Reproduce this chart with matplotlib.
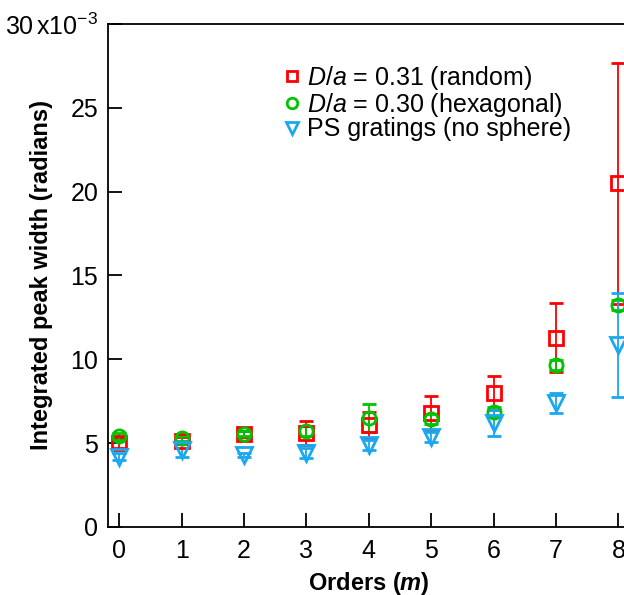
import matplotlib
matplotlib.use('Agg')
import matplotlib.pyplot as plt
import numpy as np

plt.rcParams['font.family'] = ['Liberation Sans', 'DejaVu Sans']
plt.rcParams['mathtext.fontset'] = 'custom'
plt.rcParams['mathtext.rm'] = 'Liberation Sans'
plt.rcParams['mathtext.it'] = 'Liberation Sans:italic'
plt.rcParams['mathtext.bf'] = 'Liberation Sans:bold'
plt.rcParams['mathtext.bfit'] = 'Liberation Sans:italic:bold'

# data (units of 1e-3 rad)
orders = [0, 1, 2, 3, 4, 5, 6, 7, 8]
random_w = [4.99, 5.15, 5.55, 5.6, 6.08, 6.8, 7.98, 11.3, 20.5]
random_err = [0.3, 0.2, 0.2, 0.7, 0.8, 1.0, 1.0, 2.05, 7.2]
hex_w = [5.4, 5.3, 5.55, 5.75, 6.5, 6.42, 6.88, 9.68, 13.24]
hex_err = [0.2, 0.15, 0.15, 0.3, 0.82, 0.3, 0.3, 0.3, 0.3]
ps_w = [4.2, 4.6, 4.3, 4.42, 4.9, 5.38, 6.2, 7.4, 10.85]
ps_err = [0.2, 0.45, 0.1, 0.3, 0.3, 0.3, 0.8, 0.6, 3.1]
ytick_vals = [0, 5, 10, 15, 20, 25, 30]
ytick_labels = ['0', '5', '10', '15', '20', '25', '30$\\,$x10$^{\\mathregular{-3}}$']

fig = plt.figure(figsize=(6.24, 5.95), dpi=100)
ax = fig.add_axes([0.173, 0.1143, 0.868, 0.8454])

red = '#ff0000'
green = '#00c400'
blue = '#1aa8f0'

ax.errorbar(orders, random_w, yerr=random_err, fmt='s', ms=9.5, mfc='none', mec=red,
            mew=2, ecolor=red, elinewidth=1.3, capsize=5, capthick=1.3,
            label='$D/a$ = 0.31 (random)')
ax.errorbar(orders, hex_w, yerr=hex_err, fmt='o', ms=9.5, mfc='none', mec=green,
            mew=2, ecolor=green, elinewidth=1.3, capsize=5, capthick=1.3,
            label='$D/a$ = 0.30 (hexagonal)')
ax.errorbar(orders, ps_w, yerr=ps_err, fmt='v', ms=11, mfc='none', mec=blue,
            mew=2, ecolor=blue, elinewidth=1.3, capsize=5, capthick=1.3,
            label='PS gratings (no sphere)')

ax.set_xlim(-0.18, 8.5)
ax.set_ylim(0, 30)
ax.set_xticks(orders)
ax.set_yticks(ytick_vals)
ax.set_yticklabels(ytick_labels)
ax.tick_params(direction='in', length=10, width=1.3, labelsize=18)
ax.tick_params(axis='y', pad=7)
ax.tick_params(axis='x', pad=9)
for s in ax.spines.values():
    s.set_linewidth(1.3)

ax.set_xlabel('Orders ($\\mathbfit{m}$)', fontsize=17, fontweight='bold')
ax.set_ylabel('Integrated peak width (radians)', fontsize=17, fontweight='bold')
ax.xaxis.set_label_coords(0.482, -0.085)
ax.yaxis.set_label_coords(-0.102, 0.5)

handles, labels = ax.get_legend_handles_labels()
handles = [h[0] for h in handles]
ax.legend(handles, labels, loc='upper left', bbox_to_anchor=(0.428, 0.9135),
          bbox_transform=fig.transFigure, frameon=False, fontsize=18,
          markerscale=0.8, handletextpad=0.1, handlelength=1.0,
          labelspacing=-0.05, borderpad=0)

plt.savefig('out.png', dpi=100)
